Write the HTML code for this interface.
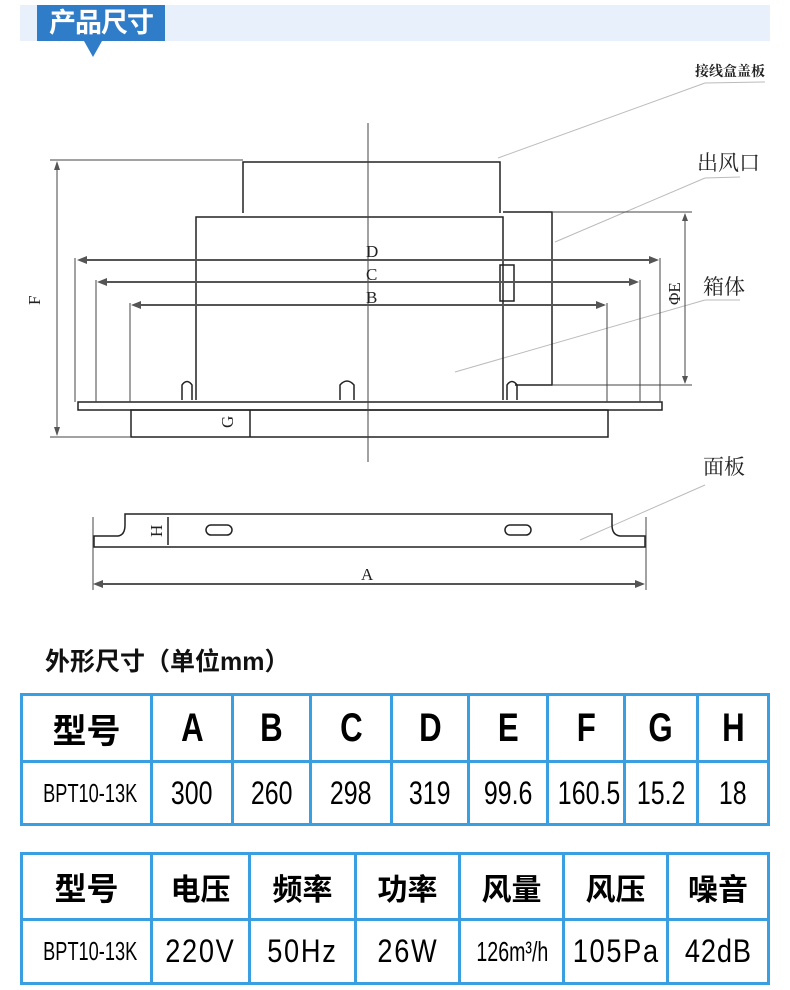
<!DOCTYPE html>
<html><head><meta charset="utf-8"><style>
body{margin:0;width:790px;height:990px;background:#fff;overflow:hidden;position:relative;font-family:"Liberation Sans","Noto Sans CJK SC",sans-serif}
.band{position:absolute;left:20px;top:5px;width:750px;height:36px;background:#e8f0fb}
.tag{position:absolute;left:37px;top:5px;width:128px;height:36px;background:#2f7cc8;color:#fff;font-weight:bold;font-size:27px;line-height:36px;text-align:center;letter-spacing:-1px}
.tri{position:absolute;left:84px;top:41px;width:0;height:0;border-left:9px solid transparent;border-right:9px solid transparent;border-top:16px solid #2f7cc8}
.title{position:absolute;left:45px;top:642px;font-size:25px;font-weight:bold;color:#111}
table{position:absolute;left:20px;border-collapse:collapse;width:747px;table-layout:fixed}
td{border:3px solid #3a9fe0;text-align:center;padding:0;color:#000;white-space:nowrap;overflow:visible}
td span{display:inline-block;transform:scaleX(.78)}
.h td{font-size:40px;font-weight:bold}
.v td{font-size:32px}
.cn{font-family:"Noto Sans CJK SC",sans-serif;font-weight:bold}
</style></head><body>
<div class="band"></div><div class="tag">产品尺寸</div><div class="tri"></div>
<svg width="790" height="620" style="position:absolute;left:0;top:0" font-family="Liberation Serif,serif">
<g stroke="#bbb" stroke-width="1" fill="none">
<line x1="498" y1="158" x2="705" y2="83"/><line x1="705" y1="83" x2="765" y2="82"/>
<line x1="555" y1="242" x2="705" y2="178"/><line x1="705" y1="178" x2="740" y2="177"/>
<line x1="455" y1="372" x2="705" y2="300"/><line x1="705" y1="300" x2="740" y2="300"/>
<line x1="580" y1="540" x2="705" y2="485"/>
</g>
<g stroke="#222" stroke-width="1.5" fill="none">
<path d="M243,213 V162 H500 V213"/>
<path d="M196,400 V217 H503 V400"/>
<path d="M503,212 H552 V385 H515"/>
<rect x="500" y="265" width="14" height="36"/>
<path d="M78,402 H662 V410 H78 Z"/>
<rect x="131" y="410" width="477" height="27"/>
<line x1="250" y1="410" x2="250" y2="437"/>
<path d="M182,400 V385 Q187,378 192,385 V400"/><path d="M340,400 V385 Q347,377 354,385 V400"/><path d="M507,400 V385 Q512,378 517,385 V400"/>
<path d="M94,547 V536 H118 Q125,535 125,525 V514 H612 V525 Q612,535 620,536 H645 V547 Z"/>
<line x1="168" y1="517" x2="168" y2="545"/>
<rect x="206" y="525" width="26" height="10" rx="5"/><rect x="505" y="525" width="26" height="10" rx="5"/>
</g>
<g stroke="#444" stroke-width="1" fill="none">
<line x1="368" y1="123" x2="368" y2="462"/>
<line x1="50" y1="160" x2="243" y2="160"/><line x1="50" y1="437" x2="131" y2="437"/>
<line x1="57" y1="162" x2="57" y2="435"/>
<line x1="75" y1="258" x2="75" y2="402"/><line x1="660" y1="258" x2="660" y2="402"/>
<line x1="96" y1="280" x2="96" y2="402"/><line x1="640" y1="280" x2="640" y2="402"/>
<line x1="130" y1="303" x2="130" y2="402"/><line x1="607" y1="303" x2="607" y2="402"/>
<line x1="552" y1="212" x2="692" y2="212"/><line x1="552" y1="385" x2="692" y2="385"/>
<line x1="685" y1="214" x2="685" y2="383"/>
<line x1="93" y1="517" x2="93" y2="590"/><line x1="646" y1="517" x2="646" y2="590"/>
</g>
<g stroke="#555" stroke-width="2">
<line x1="80" y1="260" x2="656" y2="260"/><line x1="100" y1="282" x2="636" y2="282"/><line x1="134" y1="305" x2="604" y2="305"/><line x1="96" y1="584" x2="643" y2="584"/>
</g>
<g fill="#555">
<path d="M77,260 l10,-4 v8z M659,260 l-10,-4 v8z M97,282 l10,-4 v8z M639,282 l-10,-4 v8z M131,305 l10,-4 v8z M606,305 l-10,-4 v8z M93,584 l10,-4 v8z M645,584 l-10,-4 v8z M57,161 l-3,9 h6z M57,436 l-3,-9 h6z M685,213 l-3,8 h6z M685,384 l-3,-8 h6z"/>
</g>
<g font-size="17" fill="#222">
<text x="366" y="257">D</text><text x="366" y="280">C</text><text x="366" y="303">B</text><text x="361" y="580">A</text>
<text transform="translate(40,305) rotate(-90)">F</text>
<text transform="translate(233,428) rotate(-90)">G</text>
<text transform="translate(162,537) rotate(-90)">H</text>
<text transform="translate(680,305) rotate(-90)">ΦE</text>
</g>
<g font-family="Noto Serif CJK SC,serif" fill="#222">
<text x="695" y="76" font-size="14" font-weight="bold">接线盒盖板</text>
<text x="697" y="170" font-size="21">出风口</text>
<text x="703" y="294" font-size="21">箱体</text>
<text x="703" y="474" font-size="21">面板</text>
</g>
</svg>
<div class="title">外形尺寸（单位mm）</div>
<table style="top:693px;height:133px">
<colgroup><col style="width:130px"><col style="width:81px"><col style="width:78px"><col style="width:81px"><col style="width:77px"><col style="width:79px"><col style="width:77px"><col style="width:73px"><col style="width:71px"></colgroup>
<tr class="h" style="height:67px"><td class="cn" style="font-size:34px">型号</td><td><span>A</span></td><td><span>B</span></td><td><span>C</span></td><td><span>D</span></td><td><span>E</span></td><td><span>F</span></td><td><span>G</span></td><td><span>H</span></td></tr>
<tr class="v"><td style="font-size:26px"><span style="transform:scaleX(.7)">BPT10-13K</span></td><td><span>300</span></td><td><span>260</span></td><td><span>298</span></td><td><span>319</span></td><td><span>99.6</span></td><td><span>160.5</span></td><td><span>15.2</span></td><td><span>18</span></td></tr>
</table>
<table style="top:852px;height:133px">
<colgroup><col style="width:130px"><col style="width:98px"><col style="width:106px"><col style="width:104px"><col style="width:104px"><col style="width:104px"><col style="width:101px"></colgroup>
<tr class="h" style="height:66px"><td class="cn" style="font-size:32px">型号</td><td class="cn" style="font-size:30px">电压</td><td class="cn" style="font-size:30px">频率</td><td class="cn" style="font-size:30px">功率</td><td class="cn" style="font-size:30px">风量</td><td class="cn" style="font-size:30px">风压</td><td class="cn" style="font-size:30px">噪音</td></tr>
<tr class="v"><td style="font-size:26px"><span style="transform:scaleX(.7)">BPT10-13K</span></td><td style="letter-spacing:2px"><span style="transform:scaleX(.85)">220V</span></td><td style="letter-spacing:2px"><span style="transform:scaleX(.85)">50Hz</span></td><td style="letter-spacing:2px"><span style="transform:scaleX(.85)">26W</span></td><td style="font-size:28px"><span style="transform:scaleX(.7)">126m³/h</span></td><td style="letter-spacing:2px"><span style="transform:scaleX(.85)">105Pa</span></td><td style="letter-spacing:1px"><span style="transform:scaleX(.85)">42dB</span></td></tr>
</table>
</body></html>
